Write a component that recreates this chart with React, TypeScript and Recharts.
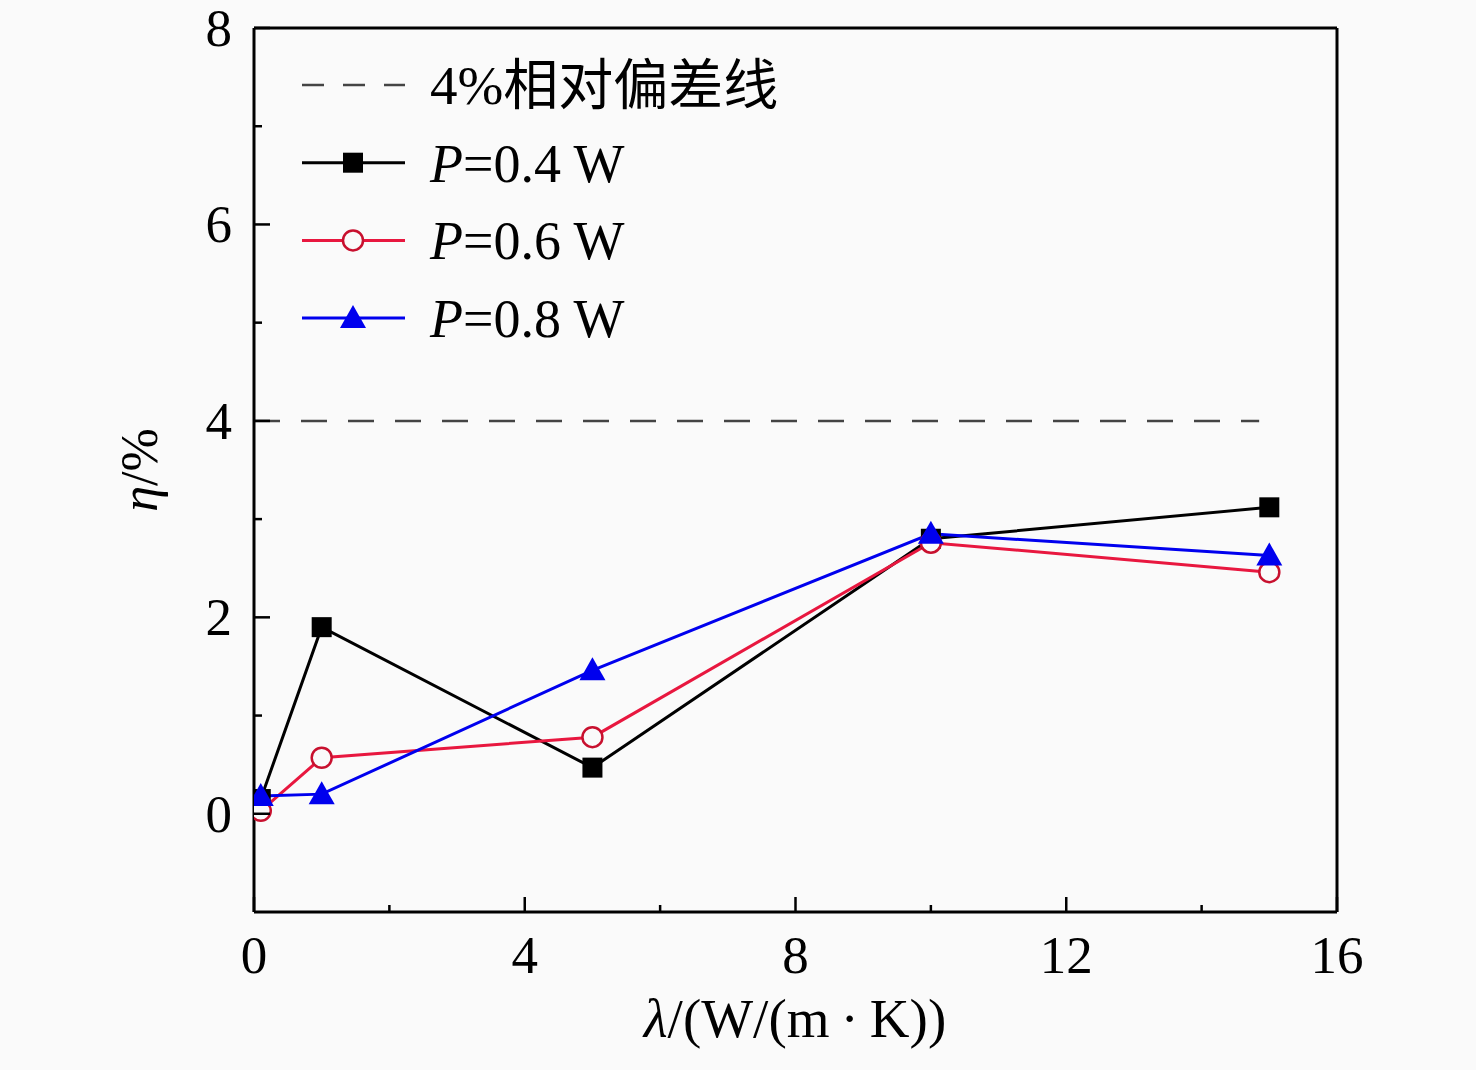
import React from 'react';
import {
  LineChart,
  Line,
  XAxis,
  YAxis,
  ReferenceLine,
  Legend,
  Label
} from 'recharts';

// thermal conductivity λ, W/(m·K)
const lambdaValues = [0.1, 1, 5, 10, 15];
// relative deviation η, %
const etaP04 = [0.15, 1.9, 0.47, 2.8, 3.12];
const etaP06 = [0.03, 0.57, 0.78, 2.76, 2.46];
const etaP08 = [0.18, 0.2, 1.46, 2.85, 2.63];

const deviationX = [0, 14.85];
const deviationLevel = 4;

const xTicks = [0, 2, 4, 6, 8, 10, 12, 14, 16];
const yTicks = [0, 1, 2, 3, 4, 5, 6, 7, 8];

const data = lambdaValues.map((x, i) => ({
  x,
  p04: etaP04[i],
  p06: etaP06[i],
  p08: etaP08[i]
}));

const deviationData = deviationX.map(x => ({ x, dev: deviationLevel }));

const FONT = '"Liberation Serif", "Times New Roman", "Noto Sans CJK SC", serif';
const BG = '#fafafa';
const RED_LINE = '#e8173f';
const RED_MARK = '#c8102e';
const BLUE = '#0000ee';

const SquareDot = (props: any) => {
  const { cx, cy, index } = props;
  return <rect key={`sq-${index}`} x={cx - 10} y={cy - 10} width={20} height={20} fill="#000" />;
};

const CircleDot = (props: any) => {
  const { cx, cy, index } = props;
  return (
    <circle key={`ci-${index}`} cx={cx} cy={cy} r={10} fill={BG} stroke={RED_MARK} strokeWidth={2.5} />
  );
};

const TriangleDot = (props: any) => {
  const { cx, cy, index } = props;
  return (
    <polygon
      key={`tr-${index}`}
      points={`${cx},${cy - 13} ${cx - 13},${cy + 10} ${cx + 13},${cy + 10}`}
      fill={BLUE}
    />
  );
};

const YTick = (props: any) => {
  const { x, y, payload } = props;
  const major = payload.value % 2 === 0;
  return (
    <g>
      <line x1={x} x2={x + (major ? 16 : 8)} y1={y} y2={y} stroke="#000" strokeWidth={2.5} />
      {major && (
        <text x={x - 22} y={y} dy={18} textAnchor="end" fontFamily={FONT} fontSize={53} fill="#000">
          {payload.value}
        </text>
      )}
    </g>
  );
};

const XTick = (props: any) => {
  const { x, y, payload } = props;
  const major = payload.value % 4 === 0;
  return (
    <g>
      <line x1={x} x2={x} y1={y} y2={y - (major ? 15 : 7)} stroke="#000" strokeWidth={2.5} />
      {major && (
        <text x={x} y={y} dy={61} textAnchor="middle" fontFamily={FONT} fontSize={53} fill="#000">
          {payload.value}
        </text>
      )}
    </g>
  );
};

const legendRows = [
  { kind: 'dash', label: '4%相对偏差线' },
  { kind: 'square', label: '=0.4 W' },
  { kind: 'circle', label: '=0.6 W' },
  { kind: 'triangle', label: '=0.8 W' }
];

const renderLegend = () => (
  <svg width={560} height={320}>
    {legendRows.map((row, i) => {
      const cy = 40 + i * 77.7;
      let sample;
      if (row.kind === 'dash') {
        sample = (
          <line x1={6} x2={109} y1={cy} y2={cy} stroke="#444" strokeWidth={2.5} strokeDasharray="22 19" />
        );
      } else {
        const color = row.kind === 'square' ? '#000' : row.kind === 'circle' ? RED_LINE : BLUE;
        sample = (
          <g>
            <line x1={6} x2={109} y1={cy} y2={cy} stroke={color} strokeWidth={3} />
            {row.kind === 'square' && <SquareDot cx={57} cy={cy} index={i} />}
            {row.kind === 'circle' && <CircleDot cx={57} cy={cy} index={i} />}
            {row.kind === 'triangle' && <TriangleDot cx={57} cy={cy} index={i} />}
          </g>
        );
      }
      return (
        <g key={row.label}>
          {sample}
          <text x={134} y={cy} dy={19} fontFamily={FONT} fontSize={row.kind === 'dash' ? 55 : 54} fill="#000">
            {row.kind !== 'dash' && <tspan fontStyle="italic">P</tspan>}
            {row.label}
          </text>
        </g>
      );
    })}
  </svg>
);

const YAxisTitle = (props: any) => {
  const { viewBox } = props;
  const cx = viewBox.x - 15;
  const cy = 470;
  return (
    <text
      x={cx}
      y={cy}
      transform={`rotate(-90 ${cx} ${cy})`}
      textAnchor="middle"
      dominantBaseline="central"
      fontFamily={FONT}
      fontSize={52}
      fill="#000"
    >
      <tspan fontStyle="italic">η</tspan>/%
    </text>
  );
};

const XAxisTitle = (props: any) => {
  const { viewBox } = props;
  return (
    <text
      x={795}
      y={viewBox.y + 125}
      textAnchor="middle"
      fontFamily={FONT}
      fontSize={55}
      fill="#000"
    >
      <tspan fontStyle="italic">λ</tspan>/(W/(m{'\u2009·\u2009'}K))
    </text>
  );
};

export default function App() {
  return (
    <div style={{ position: 'absolute', left: 0, top: 0, width: 1476, height: 1070, background: BG }}>
      <LineChart
        width={1476}
        height={1070}
        data={data}
        margin={{ top: 28, right: 139, left: 154, bottom: 58 }}
      >
        <XAxis
          type="number"
          dataKey="x"
          domain={[0, 16]}
          ticks={xTicks}
          interval={0}
          allowDataOverflow
          height={100}
          tickSize={0}
          tickMargin={0}
          tickLine={false}
          tick={<XTick />}
          axisLine={{ stroke: '#000', strokeWidth: 3 }}
        >
          <Label content={<XAxisTitle />} />
        </XAxis>
        <YAxis
          type="number"
          domain={[-1, 8]}
          ticks={yTicks}
          interval={0}
          allowDataOverflow
          width={100}
          tickSize={0}
          tickMargin={0}
          tickLine={false}
          tick={<YTick />}
          axisLine={{ stroke: '#000', strokeWidth: 3 }}
        >
          <Label content={<YAxisTitle />} />
        </YAxis>
        <ReferenceLine y={8} stroke="#000" strokeWidth={3} />
        <ReferenceLine x={16} stroke="#000" strokeWidth={3} />
        <Legend
          layout="horizontal"
          verticalAlign="middle"
          align="center"
          content={renderLegend}
          wrapperStyle={{ position: 'absolute', left: 296, top: 45, width: 560, height: 320 }}
        />
        <Line
          data={deviationData}
          dataKey="dev"
          stroke="#444"
          strokeWidth={2.5}
          strokeDasharray="26 21"
          dot={false}
          activeDot={false}
          legendType="none"
          isAnimationActive={false}
        />
        <Line
          dataKey="p04"
          stroke="#000"
          strokeWidth={3}
          dot={<SquareDot />}
          activeDot={false}
          isAnimationActive={false}
        />
        <Line
          dataKey="p06"
          stroke={RED_LINE}
          strokeWidth={3}
          dot={<CircleDot />}
          activeDot={false}
          isAnimationActive={false}
        />
        <Line
          dataKey="p08"
          stroke={BLUE}
          strokeWidth={3}
          dot={<TriangleDot />}
          activeDot={false}
          isAnimationActive={false}
        />
      </LineChart>
    </div>
  );
}
